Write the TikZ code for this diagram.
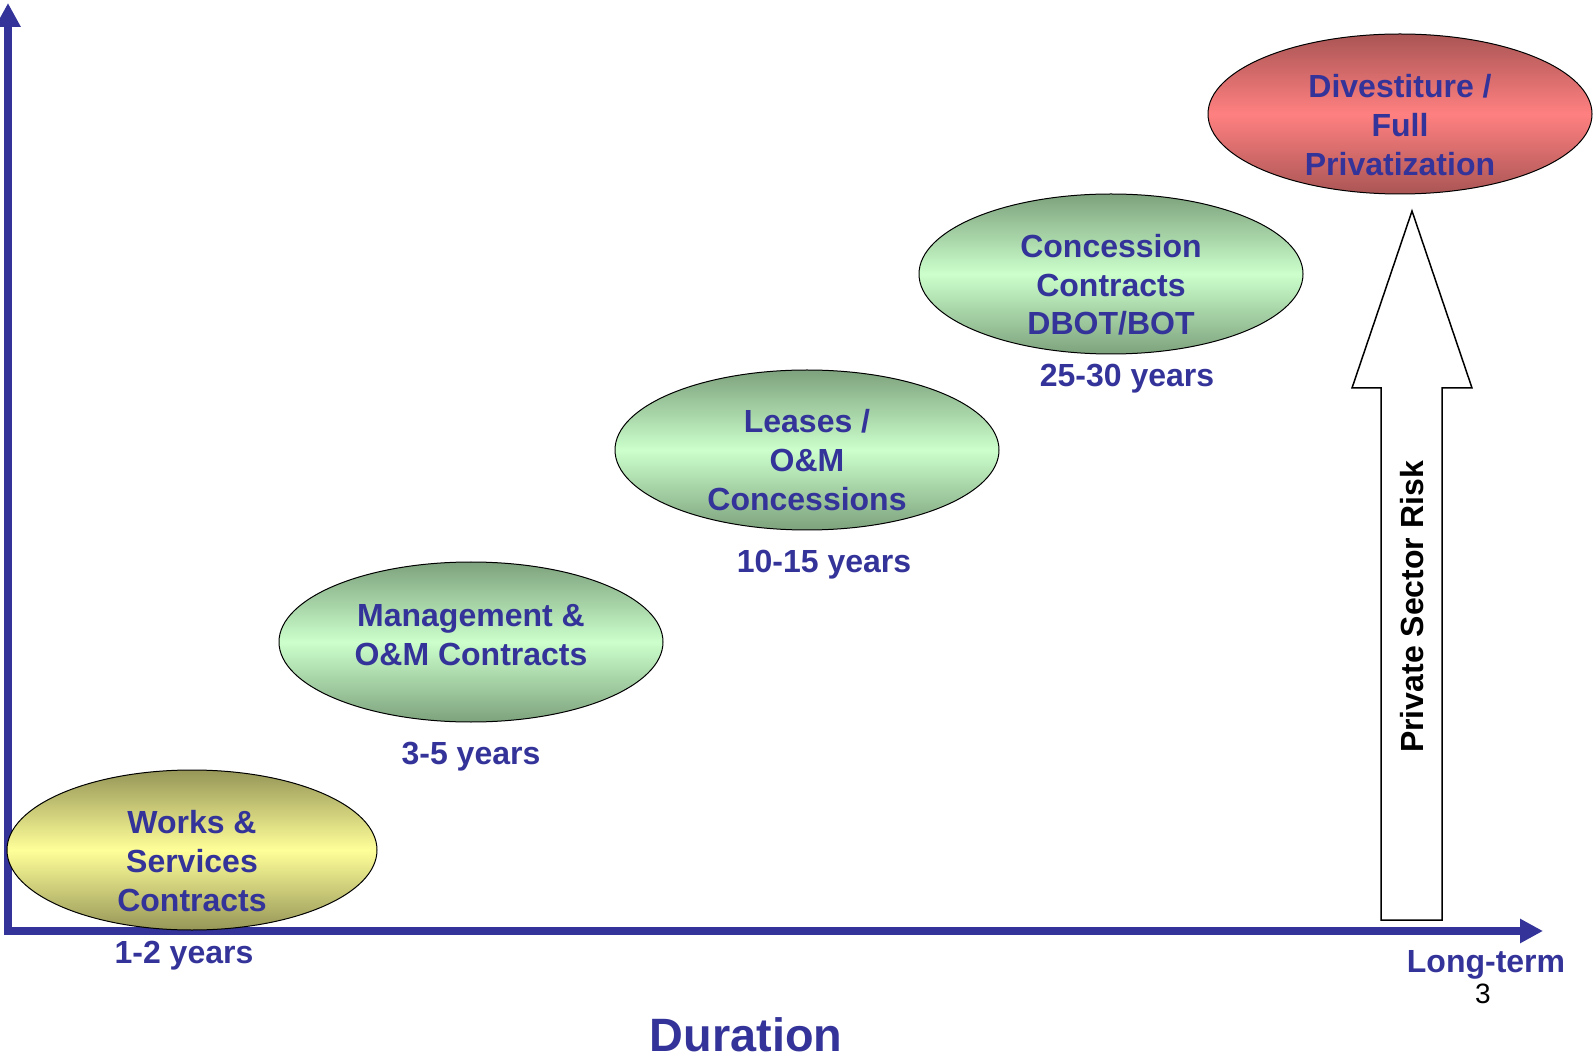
\documentclass[tikz,border=0pt]{standalone}
\usepackage{fontspec}
\setmainfont{Liberation Sans}
\usetikzlibrary{shapes.geometric,positioning,arrows.meta}
\definecolor{navy}{RGB}{51,51,153}
\definecolor{yelEdge}{RGB}{150,150,88}
\definecolor{yelMid}{RGB}{255,255,153}
\definecolor{grnEdge}{RGB}{125,162,125}
\definecolor{grnMid}{RGB}{204,255,204}
\definecolor{redEdge}{RGB}{170,85,85}
\definecolor{redMid}{RGB}{255,128,128}

\begin{document}
\begin{tikzpicture}[x=0.5pt, y=-0.5pt,
    stage/.style={ellipse, draw=black, line width=0.5pt, minimum width=192pt,
      minimum height=80pt, inner sep=0pt},
    yellow stage/.style={stage, top color=yelEdge, bottom color=yelEdge, middle color=yelMid},
    green stage/.style={stage, top color=grnEdge, bottom color=grnEdge, middle color=grnMid},
    red stage/.style={stage, top color=redEdge, bottom color=redEdge, middle color=redMid},
    stagetxt/.style={align=center, text=navy, inner sep=0pt,
      font=\fontsize{16}{19.3}\selectfont\bfseries},
    yrs/.style={text=navy, inner sep=0pt, font=\fontsize{16}{19.3}\selectfont\bfseries},
    axis/.style={navy, line width=4pt,
      {Triangle[length=12pt,width=12pt]}-{Triangle[length=11.5pt,width=11.5pt]}}]

  \useasboundingbox (0,0) rectangle (1595,1058);

  % axes
  \coordinate (ytop) at (8,3);
  \coordinate (origin) at (8,931);
  \coordinate (xend) at (1543,931);
  \draw[axis] (ytop) -- (origin) -- (xend);

  % risk arrow
  \draw[line width=0.75pt, fill=white]
    (1381,920) -- (1381,388) -- (1352,388) -- (1412,211)
    -- (1472,388) -- (1442,388) -- (1442,920) -- cycle;
  \node[rotate=90, inner sep=0pt, font=\fontsize{16}{19.3}\selectfont\bfseries]
    (risk) at (1412,607) {Private Sector Risk};

  % contract types
  \node[yellow stage, minimum width=185pt] (works) at (192,850) {};
  \node[green stage] (mgmt) at (471,642) {};
  \node[green stage] (lease) at (807,450) {};
  \node[green stage] (conc) at (1111,274) {};
  \node[red stage] (divest) at (1400,114) {};

  \node[stagetxt, yshift=-5.5pt] (worksT) at (works) {Works \&\\Services\\Contracts};
  \node[stagetxt, yshift=3.5pt] (mgmtT) at (mgmt) {Management \&\\O\&M Contracts};
  \node[stagetxt, yshift=-5pt] (leaseT) at (lease) {Leases /\\O\&M\\Concessions};
  \node[stagetxt, yshift=-5.5pt] (concT) at (conc) {Concession\\Contracts\\DBOT/BOT};
  \node[stagetxt, yshift=-5.5pt] (divestT) at (divest) {Divestiture /\\Full\\Privatization};

  % durations
  \node[yrs, below=5pt of works, xshift=-4pt] (y12) {1-2 years};
  \node[yrs, below=9.5pt of mgmt] (y35) {3-5 years};
  \node[yrs, below=9.5pt of lease, xshift=8.5pt] (y1015) {10-15 years};
  \node[yrs, below=4.5pt of conc, xshift=8pt] (y2530) {25-30 years};

  \node[yrs] (longterm) at (1486,965) {Long-term};
  \node[inner sep=0pt, font=\fontsize{14}{16}\selectfont] (pagenum) at (1483,994) {3};
  \node[text=navy, inner sep=0pt, font=\fontsize{23.4}{28}\selectfont\bfseries]
    (duration) at (746,1035) {Duration};
\end{tikzpicture}
\end{document}
